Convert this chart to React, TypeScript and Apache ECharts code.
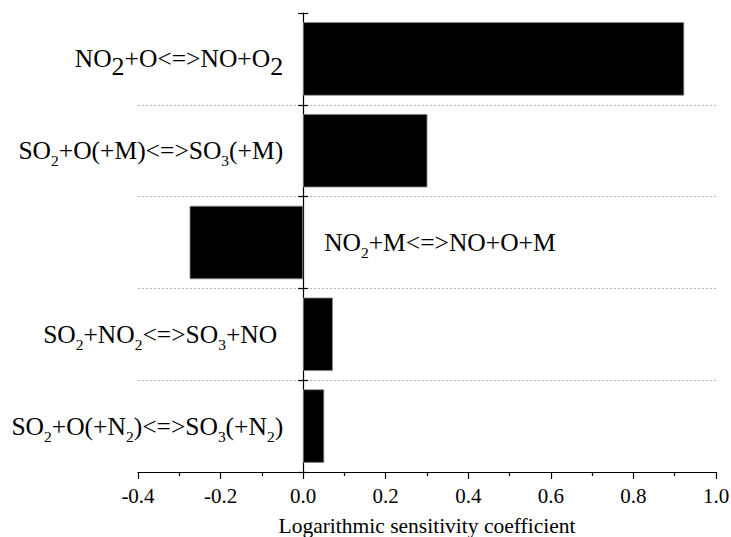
import React, { useEffect, useRef } from "react";
import * as echarts from "echarts";

const categories = [
  "NO2+O<=>NO+O2",
  "SO2+O(+M)<=>SO3(+M)",
  "NO2+M<=>NO+O+M",
  "SO2+NO2<=>SO3+NO",
  "SO2+O(+N2)<=>SO3(+N2)",
];
const categoryRich = [
  "NO{b|2}+O<=>NO+O{b|2}",
  "SO{s|2}+O(+M)<=>SO{s|3}(+M)",
  "NO{s|2}+M<=>NO+O+M",
  "SO{s|2}+NO{s|2}<=>SO{s|3}+NO",
  "SO{s|2}+O(+N{s|2})<=>SO{s|3}(+N{s|2})",
];
const values = [0.923, 0.301, -0.275, 0.072, 0.051];
const xTicks = { min: -0.4, max: 1.0, interval: 0.2 };
const xName = "Logarithmic sensitivity coefficient";

const FONT = "Liberation Serif";
const GRID = { left: 138, right: 15, top: 13, bottom: 65 };
const W = 731;

export default function App() {
  const ref = useRef<HTMLDivElement>(null);
  useEffect(() => {
    if (!ref.current) return;
    const chart = echarts.init(ref.current, null, { renderer: "svg" });
    const plotW = W - GRID.left - GRID.right;
    const zeroOffset = -(plotW * (0 - xTicks.min)) / (xTicks.max - xTicks.min);
    const yData = categories.map((c, i) => {
      if (i === 2) return { value: c, textStyle: { align: "left", padding: [0, 0, 0, 41] } };
      if (i === 3) return { value: c, textStyle: { padding: [0, 6, 0, 0] } };
      return { value: c };
    });
    chart.setOption({
      animation: false,
      backgroundColor: "#fff",
      grid: { ...GRID, containLabel: false, outerBoundsMode: "none" },
      xAxis: {
        type: "value",
        min: xTicks.min,
        max: xTicks.max,
        interval: xTicks.interval,
        name: xName,
        nameLocation: "middle",
        nameGap: 43,
        nameTextStyle: { fontFamily: FONT, fontSize: 21.5, color: "#000" },
        axisLine: { show: true, onZero: false, lineStyle: { color: "#000", width: 1.2 } },
        axisTick: { show: true, inside: false, length: 7, lineStyle: { color: "#000", width: 1.2 } },
        minorTick: { show: true, splitNumber: 2, length: 4, lineStyle: { color: "#000", width: 1.2 } },
        splitLine: { show: false },
        axisLabel: {
          fontFamily: FONT,
          fontSize: 21,
          color: "#000",
          margin: 13,
          formatter: (v: number) => v.toFixed(1),
        },
      },
      yAxis: [
        {
          type: "category",
          inverse: true,
          position: "left",
          offset: zeroOffset,
          data: yData,
          axisLine: { show: true, onZero: false, lineStyle: { color: "#000", width: 1.2 } },
          axisTick: { show: true, inside: false, length: 5, lineStyle: { color: "#000", width: 1.2 } },
          splitLine: {
            show: true,
            showMinLine: false,
            showMaxLine: false,
            lineStyle: { color: "#b5b5b5", type: [2, 2], width: 1 },
          },
          axisLabel: {
            fontFamily: FONT,
            fontSize: 25.5,
            color: "#000",
            margin: 20,
            formatter: (_v: string, i: number) => categoryRich[i],
            rich: {
              s: { fontFamily: FONT, fontSize: 15.5, color: "#000", padding: [20, 0, 0, 0] },
              b: { fontFamily: FONT, fontSize: 26, color: "#000", padding: [15, 0, 0, 0] },
            },
          },
        },
        {
          type: "category",
          inverse: true,
          position: "left",
          offset: zeroOffset,
          data: categories,
          axisLine: { show: false, onZero: false },
          axisTick: { show: true, inside: true, length: 5, lineStyle: { color: "#000", width: 1.2 } },
          splitLine: { show: false },
          axisLabel: { show: false },
        },
      ],
      series: [
        {
          type: "bar",
          data: values,
          barCategoryGap: "20%",
          itemStyle: { color: "#000", borderColor: "#888", borderWidth: 0.8 },
        },
      ],
    });
    return () => chart.dispose();
  }, []);
  return (
    <div
      ref={ref}
      style={{ position: "absolute", left: 0, top: 0, width: 731, height: 537, background: "#fff" }}
    />
  );
}
